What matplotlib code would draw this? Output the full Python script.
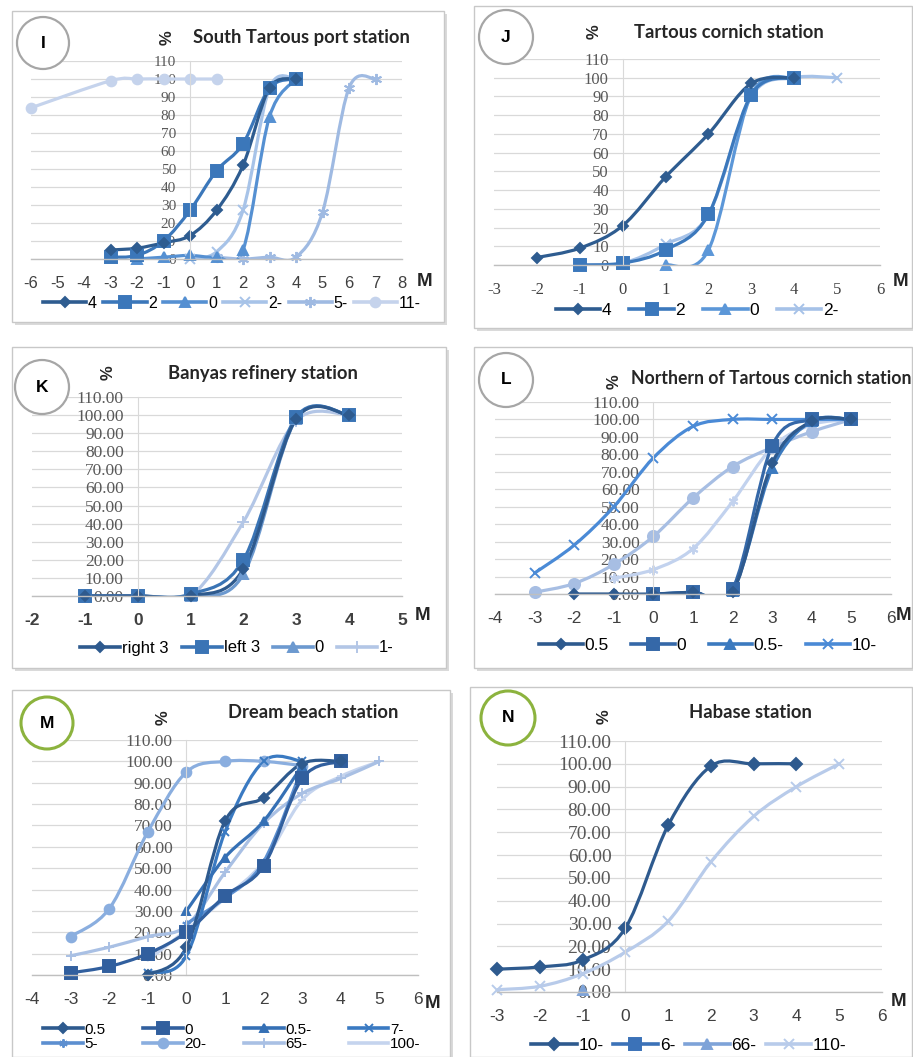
import numpy as np
import matplotlib
matplotlib.use("Agg")
import matplotlib.pyplot as plt
from matplotlib.path import Path
from matplotlib.patches import PathPatch, Rectangle, Ellipse
from matplotlib.lines import Line2D

W, H = 913, 1057

# ---------------- DATA ----------------
# Panel I : South Tartous port station
I_labels = ["4", "2", "0", "2-", "5-", "11-"]
I_x_4 = [-3, -2, -1, 0, 1, 2, 3, 4];      I_y_4 = [5, 6, 9, 13, 27, 52, 95, 100]
I_x_2 = [-3, -2, -1, 0, 1, 2, 3, 4];      I_y_2 = [1, 2, 10, 27, 49, 64, 95, 100]
I_x_0 = [-2, -1, 0, 1, 2, 3, 4];          I_y_0 = [0, 1, 2, 1, 5, 79, 100]
I_x_m2 = [0, 1, 2, 3, 4];                 I_y_m2 = [0, 4, 27, 95, 100]
I_x_m5 = [1, 2, 3, 4, 5, 6, 7];           I_y_m5 = [1, 0, 1, 1, 26, 95, 100]
I_x_m11 = [-6, -3, -2, -1, 0, 1];         I_y_m11 = [84, 99, 100, 100, 100, 100]

# Panel J : Tartous cornich station
J_labels = ["4", "2", "0", "2-"]
J_x_4 = [-2, -1, 0, 1, 2, 3, 4];          J_y_4 = [4, 9, 21, 47, 70, 97, 100]
J_x_2 = [-1, 0, 1, 2, 3, 4];              J_y_2 = [0, 1, 8, 27, 91, 100]
J_x_0 = [1, 2, 3, 4];                     J_y_0 = [0, 8, 91, 100]
J_x_m2 = [-1, 0, 1, 2, 3, 4, 5];          J_y_m2 = [0, 1, 11, 27, 90, 100, 100]

# Panel K : Banyas refinery station
K_labels = ["right 3", "left 3", "0", "1-"]
K_x_r3 = [-1, 0, 1, 2, 3, 4];             K_y_r3 = [0, 0, 0, 15, 98, 100]
K_x_l3 = [-1, 0, 1, 2, 3, 4];             K_y_l3 = [0, 0, 1, 20, 99, 100]
K_x_0 = [-1, 0, 1, 2, 3, 4];              K_y_0 = [0, 0, 0, 12, 98, 100]
K_x_m1 = [-1, 0, 1, 2, 3, 4];             K_y_m1 = [0, 0, 0, 41, 97, 100]

# Panel L : Northern of Tartous cornich station
L_labels = ["0.5", "0", "0.5-", "10-"]
L_x_05 = [-2, -1, 0, 1, 2, 3, 4, 5];      L_y_05 = [0, 0, 0, 1, 1, 75, 99, 100]
L_x_0 = [0, 1, 2, 3, 4, 5];               L_y_0 = [0, 1, 3, 85, 100, 100]
L_x_m05 = [0, 1, 2, 3, 4, 5];             L_y_m05 = [0, 1, 2, 72, 99, 100]
L_x_m10 = [-3, -2, -1, 0, 1, 2, 3, 4, 5]; L_y_m10 = [12, 28, 50, 78, 96, 100, 100, 100, 100]
L_x_e1 = [-3, -2, -1, 0, 1, 2, 3, 4, 5];  L_y_e1 = [1, 6, 17, 33, 55, 73, 84, 93, 100]
L_x_e2 = [-1, 0, 1, 2, 3, 4, 5];          L_y_e2 = [9, 14, 26, 53, 84, 97, 100]

# Panel M : Dream beach station
M_labels = ["0.5", "0", "0.5-", "7-", "5-", "20-", "65-", "100-"]
M_x_05 = [-1, 0, 1, 2, 3, 4];             M_y_05 = [0, 13, 72, 83, 99, 100]
M_x_0 = [-3, -2, -1, 0, 1, 2, 3, 4];      M_y_0 = [1, 4, 10, 20, 37, 51, 92, 100]
M_x_m05 = [0, 1, 2, 3];                   M_y_m05 = [30, 55, 72, 98]
M_x_m7 = [-1, 0, 1, 2, 3];                M_y_m7 = [1, 9, 67, 100, 100]
M_x_m5 = [0, 1, 2, 3];                    M_y_m5 = [24, 36, 53, 97]
M_x_m20 = [-3, -2, -1, 0, 1, 2, 3];       M_y_m20 = [18, 31, 67, 95, 100, 100, 98]
M_x_m65 = [-3, -2, -1, 0, 1, 2, 3, 4, 5]; M_y_m65 = [9, 13, 18, 23, 48, 71, 85, 92, 100]
M_x_m100 = [-1, 0, 1, 2, 3, 4, 5];        M_y_m100 = [7, 21, 36, 53, 82, 93, 100]

# Panel N : Habase station
N_labels = ["10-", "6-", "66-", "110-"]
N_x_m10 = [-3, -2, -1, 0, 1, 2, 3, 4];    N_y_m10 = [10, 11, 14, 28, 73, 99, 100, 100]
N_x_m6 = [];                              N_y_m6 = []
N_x_m66 = [-1];                           N_y_m66 = [1]
N_x_m110 = [-3, -2, -1, 0, 1, 2, 3, 4, 5]; N_y_m110 = [1, 2.5, 8, 17.5, 31, 57, 77, 90, 100]

# ---------------- HELPERS ----------------
plt.rcParams['font.family'] = ['Liberation Sans', 'DejaVu Sans']
fig = plt.figure(figsize=(W / 100, H / 100), dpi=100)
fig.patch.set_facecolor('white')


def fx(x):
    return x / W


def fy(y):
    return 1 - y / H


def smooth_path(x, y):
    pts = np.column_stack([x, y]).astype(float)
    n = len(pts)
    verts = [pts[0]]
    codes = [Path.MOVETO]
    for i in range(n - 1):
        p0 = pts[i - 1] if i > 0 else pts[i]
        p1 = pts[i]
        p2 = pts[i + 1]
        p3 = pts[i + 2] if i + 2 < n else pts[i + 1]
        c1 = p1 + (p2 - p0) / 6.0
        c2 = p2 - (p3 - p1) / 6.0
        verts += [c1, c2, p2]
        codes += [Path.CURVE4] * 3
    return Path(verts, codes)


def frame(x0, y0, x1, y1):
    sh = Rectangle((fx(x0 + 3), fy(y1 + 3)), (x1 - x0) / W, (y1 - y0) / H,
                   transform=fig.transFigure, facecolor='#DADADA', edgecolor='none', zorder=-3)
    fr = Rectangle((fx(x0), fy(y1)), (x1 - x0) / W, (y1 - y0) / H,
                   transform=fig.transFigure, facecolor='white', edgecolor='#C8C8C8', lw=1.0, zorder=-2)
    fig.patches.extend([sh, fr])


def badge(cx, cy, r, letter, color):
    e = Ellipse((fx(cx), fy(cy)), 2 * r / W, 2 * r / H, transform=fig.transFigure,
                facecolor='white', edgecolor=color, lw=2.2 if color != '#A6A6A6' else 1.6, zorder=3)
    fig.patches.append(e)
    fig.text(fx(cx), fy(cy), letter, ha='center', va='center', fontsize=12.5,
             fontweight='bold', family='Liberation Sans', zorder=4)


def make_axes(x0, x1, ytop, ybot, xlim, yfmt, xfont, yfont, ysize, xsize, xweight='normal'):
    ax = fig.add_axes([fx(x0), fy(ybot), (x1 - x0) / W, (ybot - ytop) / H])
    ax.set_zorder(1)
    ax.patch.set_visible(False)
    ax.set_xlim(*xlim)
    ax.set_ylim(0, 110)
    for s in ['top', 'right']:
        ax.spines[s].set_visible(False)
    # position the vertical axis first: moving a spine resets its ticks
    ax.spines['left'].set_position(('data', 0))
    ax.spines['left'].set_color('#D9D9D9')
    ax.spines['bottom'].set_color('#BFBFBF')
    ax.spines['bottom'].set_linewidth(1.0)
    ax.tick_params(axis='both', length=0)
    ax.tick_params(axis='y', pad=10, labelsize=ysize, labelcolor='#595959')
    ax.tick_params(axis='x', pad=12, labelsize=xsize, labelcolor='#404040')
    ax.set_yticks(np.arange(0, 111, 10))
    ax.set_yticklabels([yfmt.format(v) for v in range(0, 111, 10)],
                       family=yfont, fontsize=ysize, color='#595959')
    ax.set_xticks(np.arange(xlim[0], xlim[1] + 1))
    ax.set_xticklabels([str(v) for v in range(xlim[0], xlim[1] + 1)],
                       family=xfont, fontsize=xsize, color='#404040', fontweight=xweight)
    ax.grid(axis='y', color='#D9D9D9', lw=0.9)
    ax.set_axisbelow(True)
    return ax


def draw_series(ax, x, y, color, marker, ms, lw=2.3, z=2):
    if len(x) == 0:
        return
    if len(x) > 1:
        ax.add_patch(PathPatch(smooth_path(x, y), facecolor='none', edgecolor=color,
                               lw=lw, zorder=z, clip_on=True, capstyle='round'))
    ax.plot(x, y, linestyle='none', marker=marker, ms=ms, color=color,
            mec=color, mew=1.4, zorder=z + 0.1, clip_on=False)


def legend(ax, handles, labels, cx, cy, ncol, fs, hl=2.8, cs=1.0):
    ax.legend(handles, labels, loc='center', bbox_to_anchor=(fx(cx), fy(cy)),
              bbox_transform=fig.transFigure, ncol=ncol, frameon=False,
              fontsize=fs, handlelength=hl, handletextpad=0.1, columnspacing=cs,
              borderpad=0, labelspacing=0.05)


def handle(color, marker, ms):
    return Line2D([], [], color=color, lw=2.6, marker=marker, ms=ms, mec=color, mew=1.4)


def texts(title, tx, ty, pct_x, pct_y, m_x, m_y, tsize=13.2):
    fig.text(fx(tx), fy(ty), title, ha='center', va='center', fontsize=tsize,
             fontweight='bold', family='Lato', color='#262626')
    fig.text(fx(pct_x), fy(pct_y), '%', ha='center', va='center', fontsize=12,
             rotation=90, fontweight='bold', color='#262626')
    fig.text(fx(m_x), fy(m_y), 'M', ha='center', va='center', fontsize=13.5,
             fontweight='bold', color='#262626')


STAR = (6, 2, 0)
GRAY = '#A6A6A6'
GREEN = '#8CB33E'

# ---------------- PANEL I ----------------
frame(12, 11, 444, 322)
axI = make_axes(31, 402, 61, 259, (-6, 8), '{:d}', 'Liberation Sans', 'Liberation Serif', 11, 12)
cI = ['#2E5C90', '#3B77BA', '#5590D2', '#A7C3E8', '#9FBAE2', '#C5D3EC']
mI = ['D', 's', '^', 'x', STAR, 'o']
sI = [5, 8, 7, 7, 8, 7]
for (x, y), c, m, s in zip([(I_x_4, I_y_4), (I_x_2, I_y_2), (I_x_0, I_y_0), (I_x_m2, I_y_m2),
                            (I_x_m5, I_y_m5), (I_x_m11, I_y_m11)][::-1], cI[::-1], mI[::-1], sI[::-1]):
    draw_series(axI, x, y, c, m, s)
legend(axI, [handle(c, m, s) for c, m, s in zip(cI, mI, sI)], I_labels, 232, 303, 6, 11.5, hl=2.7, cs=0.4)
texts('South Tartous port station', 301, 37, 167, 38, 425, 282)
badge(43, 43, 26, 'I', GRAY)

# ---------------- PANEL J ----------------
frame(474, 6, 912, 328)
axJ = make_axes(494, 880, 59, 265, (-3, 6), '{:d}', 'Liberation Serif', 'Liberation Serif', 12, 12)
cJ = ['#2E5C90', '#3B78BC', '#5C97D8', '#A6C2E8']
mJ = ['D', 's', '^', 'x']
sJ = [5, 8, 7, 7]
for (x, y), c, m, s in zip([(J_x_4, J_y_4), (J_x_2, J_y_2), (J_x_0, J_y_0), (J_x_m2, J_y_m2)][::-1],
                           cJ[::-1], mJ[::-1], sJ[::-1]):
    draw_series(axJ, x, y, c, m, s)
legend(axJ, [handle(c, m, s) for c, m, s in zip(cJ, mJ, sJ)], J_labels, 697, 310, 4, 12.5, hl=2.55, cs=1.05)
texts('Tartous cornich station', 729, 32, 594, 32, 901, 282)
badge(506, 37, 27, 'J', GRAY)

# ---------------- PANEL K ----------------
frame(12, 347, 446, 668)
axK = make_axes(32, 402, 397, 596, (-2, 5), '{:.2f}', 'Liberation Sans', 'Liberation Serif', 12.5, 12.5, 'bold')
cK = ['#2E5A8E', '#3A74B5', '#6C99CF', '#B3C6E6']
mK = ['D', 's', '^', '+']
sK = [5, 9, 7, 8]
for (x, y), c, m, s in zip([(K_x_r3, K_y_r3), (K_x_l3, K_y_l3), (K_x_0, K_y_0), (K_x_m1, K_y_m1)][::-1],
                           cK[::-1], mK[::-1], sK[::-1]):
    draw_series(axK, x, y, c, m, s)
legend(axK, [handle(c, m, s) for c, m, s in zip(cK, mK, sK)], K_labels, 237, 648, 4, 12, hl=2.4, cs=0.8)
texts('Banyas refinery station', 263, 373, 108, 373, 423, 615)
badge(42, 387, 27, 'K', GRAY)

# ---------------- PANEL L ----------------
frame(474, 347, 912, 668)
axL = make_axes(495, 891, 402, 594, (-4, 6), '{:.2f}', 'Liberation Sans', 'Liberation Serif', 12.5, 12.5)
cL = ['#2E5A8E', '#3568A8', '#3C7ABF', '#4A8AD6']
mL = ['D', 's', '^', 'x']
sL = [5, 8, 7, 7]
draw_series(axL, L_x_e2, L_y_e2, '#C2D2EE', STAR, 7)
draw_series(axL, L_x_e1, L_y_e1, '#A7BEE3', 'o', 8)
for (x, y), c, m, s in zip([(L_x_05, L_y_05), (L_x_0, L_y_0), (L_x_m05, L_y_m05), (L_x_m10, L_y_m10)][::-1],
                           cL[::-1], mL[::-1], sL[::-1]):
    draw_series(axL, x, y, c, m, s)
legend(axL, [handle(c, m, s) for c, m, s in zip(cL, mL, sL)], L_labels, 708, 645, 4, 12.5, hl=2.5, cs=1.3)
texts('Northern of Tartous cornich station', 771, 378, 614, 382, 904, 616, tsize=12.7)
badge(506, 380, 27, 'L', GRAY)

# ---------------- PANEL M ----------------
frame(12, 690, 450, 1057)
axM = make_axes(32, 418, 740, 975, (-4, 6), '{:.2f}', 'Liberation Sans', 'Liberation Serif', 12.5, 12.5)
cM = ['#2E5A8E', '#315F9E', '#3570B5', '#3A7AC2', '#5C8FD0', '#8AAEDF', '#A9C0E4', '#C5D4EE']
mM = ['D', 's', '^', 'x', STAR, 'o', '+', '_']
sM = [5, 8, 6, 6, 6, 7, 7, 6]
M_series = [(M_x_05, M_y_05), (M_x_0, M_y_0), (M_x_m05, M_y_m05), (M_x_m7, M_y_m7),
            (M_x_m5, M_y_m5), (M_x_m20, M_y_m20), (M_x_m65, M_y_m65), (M_x_m100, M_y_m100)]
for (x, y), c, m, s in zip(M_series[::-1], cM[::-1], mM[::-1], sM[::-1]):
    draw_series(axM, x, y, c, m, s)
M_handles = [handle(c, m, s) for c, m, s in zip(cM, mM, sM)]
order = [0, 4, 1, 5, 2, 6, 3, 7]  # row-major layout for a 2-row, 4-column legend
legend(axM, [M_handles[i] for i in order], [M_labels[i] for i in order], 232, 1037, 4, 11, hl=2.6, cs=2.45)
texts('Dream beach station', 313, 713, 163, 718, 433, 1003)
badge(47, 723, 26, 'M', GREEN)

# ---------------- PANEL N ----------------
frame(470, 687, 912, 1057)
axN = make_axes(497, 882, 741, 992, (-3, 6), '{:.2f}', 'Liberation Sans', 'Liberation Serif', 14, 12.5)
cN = ['#2E5A8E', '#3B72B8', '#7EA3D8', '#B8CBEA']
mN = ['D', 's', '^', 'x']
sN = [6, 8, 7, 7]
for (x, y), c, m, s in zip([(N_x_m10, N_y_m10), (N_x_m6, N_y_m6), (N_x_m66, N_y_m66), (N_x_m110, N_y_m110)][::-1],
                           cN[::-1], mN[::-1], sN[::-1]):
    draw_series(axN, x, y, c, m, s)
legend(axN, [handle(c, m, s) for c, m, s in zip(cN, mN, sN)], N_labels, 689, 1045, 4, 12.5, hl=2.6, cs=0.55)
texts('Habase station', 750, 713, 604, 717, 899, 1002)
badge(508, 718, 27, 'N', GREEN)

fig.savefig('out.png', dpi=100)
